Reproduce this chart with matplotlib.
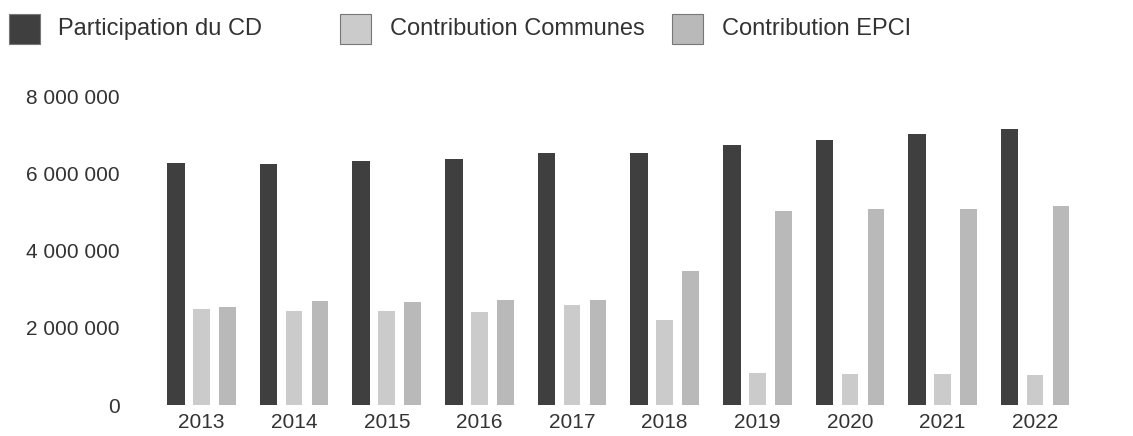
import numpy as np
import matplotlib
matplotlib.use("Agg")
import matplotlib.pyplot as plt
from matplotlib.patches import Rectangle
from matplotlib.ticker import FuncFormatter

plt.rcParams['font.family'] = ['Liberation Sans', 'DejaVu Sans']

years = ['2013', '2014', '2015', '2016', '2017', '2018', '2019', '2020', '2021', '2022']
participation_cd = [6.26e6, 6.24e6, 6.33e6, 6.36e6, 6.53e6, 6.52e6, 6.73e6, 6.87e6, 7.03e6, 7.16e6]
contrib_communes = [2.49e6, 2.43e6, 2.43e6, 2.41e6, 2.60e6, 2.19e6, 0.83e6, 0.81e6, 0.81e6, 0.78e6]
contrib_epci = [2.53e6, 2.69e6, 2.67e6, 2.71e6, 2.73e6, 3.48e6, 5.03e6, 5.09e6, 5.07e6, 5.15e6]

series_names = ['Participation du CD', 'Contribution Communes', 'Contribution EPCI']
colors = ['#3f3f3f', '#cbcbcb', '#b9b9b9']

fig = plt.figure(figsize=(11.33, 4.36), dpi=100)
ax = fig.add_axes([0.1324, 0.0711, 0.8164, 0.726])

x = np.arange(len(years))
ax.bar(x - 0.275, participation_cd, width=0.19, color=colors[0])
ax.bar(x, contrib_communes, width=0.18, color=colors[1])
ax.bar(x + 0.28, contrib_epci, width=0.18, color=colors[2])

ax.set_xlim(-0.556, 9.43)
ax.set_ylim(0, 8.2e6)
ax.set_yticks([0, 2e6, 4e6, 6e6, 8e6])
ax.yaxis.set_major_formatter(FuncFormatter(lambda v, p: '{:,.0f}'.format(v).replace(',', ' ')))
ax.set_xticks(x)
ax.set_xticklabels(years)
ax.tick_params(axis='y', length=0, pad=22, labelsize=15, labelcolor='#333333')
ax.tick_params(axis='x', length=0, pad=6, labelsize=15, labelcolor='#333333')
for s in ax.spines.values():
    s.set_visible(False)

# legend drawn by hand, the entries are not evenly spaced
W, H = 1133, 436
sq_x = [9, 340, 672]
txt_x = [58, 390, 722]
for sx, tx, c, name in zip(sq_x, txt_x, colors, series_names):
    fig.patches.append(Rectangle((sx / W, 1 - 44 / H), 31 / W, 30 / H,
                                 transform=fig.transFigure, facecolor=c,
                                 edgecolor='#777777', linewidth=0.8))
    fig.text(tx / W, 1 - 29 / H, name, fontsize=17, color='#333333',
             va='center', ha='left')

fig.savefig('out.png', dpi=100)
